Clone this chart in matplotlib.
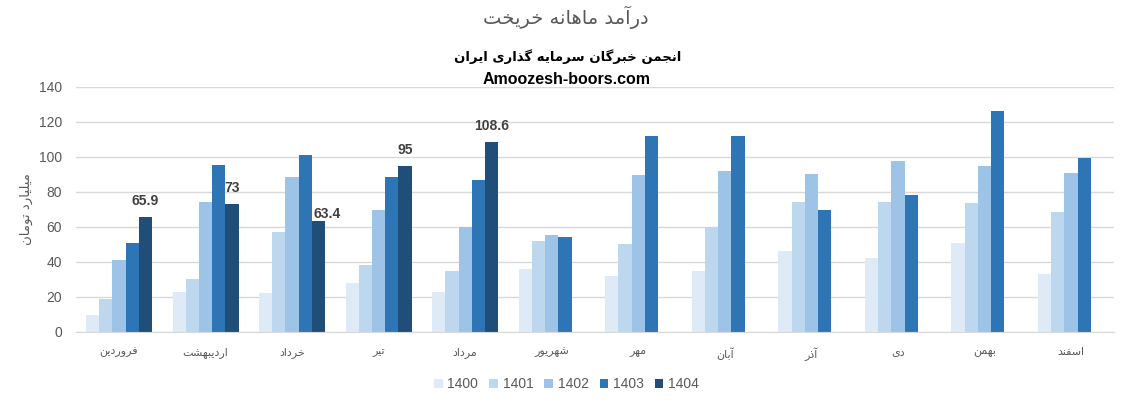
import numpy as np
import matplotlib
matplotlib.use("Agg")
import matplotlib.pyplot as plt

# data (billion toman)
months = ["فروردین", "اردیبهشت", "خرداد", "تیر", "مرداد", "شهریور",
          "مهر", "آبان", "آذر", "دی", "بهمن", "اسفند"]
years = ["1400", "1401", "1402", "1403", "1404"]
v1400 = [9.7, 22.7, 22.1, 27.8, 22.7, 35.8, 31.8, 34.7, 46.1, 42.1, 50.7, 33.0]
v1401 = [18.7, 30.1, 57.0, 38.1, 34.7, 51.8, 50.1, 60.2, 74.1, 74.1, 73.5, 68.4]
v1402 = [41.0, 74.0, 88.4, 69.5, 60.0, 55.2, 89.5, 91.8, 90.1, 97.5, 94.7, 90.7]
v1403 = [50.7, 95.2, 101.0, 88.4, 86.7, 54.1, 111.8, 111.8, 69.5, 78.1, 126.1, 99.2]
v1404 = [65.9, 73.0, 63.4, 95.0, 108.6, None, None, None, None, None, None, None]

title = "درآمد ماهانه خریخت"
subtitle = "انجمن خبرگان سرمایه گذاری ایران"
site = "Amoozesh-boors.com"
ylabel = "میلیارد تومان"

colors = ["#DEEAF6", "#BDD7EE", "#9DC3E6", "#2E75B6", "#1F4E79"]

# --- tiny Persian shaper: presentation forms (isolated, final, initial, medial) ---
FORMS = {
    "آ": ("\uFE81", "\uFE82", None, None),
    "ا": ("\uFE8D", "\uFE8E", None, None),
    "ب": ("\uFE8F", "\uFE90", "\uFE91", "\uFE92"),
    "ت": ("\uFE95", "\uFE96", "\uFE97", "\uFE98"),
    "ج": ("\uFE9D", "\uFE9E", "\uFE9F", "\uFEA0"),
    "خ": ("\uFEA5", "\uFEA6", "\uFEA7", "\uFEA8"),
    "د": ("\uFEA9", "\uFEAA", None, None),
    "ذ": ("\uFEAB", "\uFEAC", None, None),
    "ر": ("\uFEAD", "\uFEAE", None, None),
    "س": ("\uFEB1", "\uFEB2", "\uFEB3", "\uFEB4"),
    "ش": ("\uFEB5", "\uFEB6", "\uFEB7", "\uFEB8"),
    "ف": ("\uFED1", "\uFED2", "\uFED3", "\uFED4"),
    "ل": ("\uFEDD", "\uFEDE", "\uFEDF", "\uFEE0"),
    "م": ("\uFEE1", "\uFEE2", "\uFEE3", "\uFEE4"),
    "ن": ("\uFEE5", "\uFEE6", "\uFEE7", "\uFEE8"),
    "ه": ("\uFEE9", "\uFEEA", "\uFEEB", "\uFEEC"),
    "و": ("\uFEED", "\uFEEE", None, None),
    "ی": ("\uFBFC", "\uFBFD", "\uFBFE", "\uFBFF"),
    "گ": ("\uFB92", "\uFB93", "\uFB94", "\uFB95"),
}


def fa(text):
    out = []
    for i, c in enumerate(text):
        if c not in FORMS:
            out.append(c)
            continue
        prev = text[i - 1] if i > 0 else ""
        nxt = text[i + 1] if i + 1 < len(text) else ""
        j_prev = prev in FORMS and FORMS[prev][2] is not None
        j_next = FORMS[c][2] is not None and nxt in FORMS
        iso, fin, ini, med = FORMS[c]
        if j_prev and j_next:
            out.append(med)
        elif j_prev:
            out.append(fin)
        elif j_next:
            out.append(ini)
        else:
            out.append(iso)
    return "".join(out)[::-1]


FA_FONT = ["DejaVu Sans"]
GRAY = "#595959"

fig = plt.figure(figsize=(11.22, 4.08), dpi=100)
ax = fig.add_axes([0.0675, 0.1863, 0.9256, 0.6005])

series = [v1400, v1401, v1402, v1403, v1404]
x = np.arange(len(months))
w = 0.1526
for i, (yr, vals) in enumerate(zip(years, series)):
    vals = np.array([np.nan if v is None else v for v in vals], dtype=float)
    bars = ax.bar(x + (i - 2) * w, vals, width=w, color=colors[i], label=yr, zorder=2)
    if yr == "1404":
        for k, (b, v) in enumerate(zip(bars, vals)):
            if np.isnan(v):
                continue
            dx, dy = (6.3, 2.2) if k == 2 else (0, 8.6)
            ax.annotate(f"{v:g}", (b.get_x() + b.get_width() / 2, v),
                        xytext=(dx, dy), textcoords="offset points",
                        ha="center", va="baseline", fontsize=10,
                        fontweight="bold", color="#404040",
                        family="Liberation Sans")

ax.set_xlim(-0.5, len(months) - 0.5)
ax.set_ylim(0, 140)
ax.set_yticks(range(0, 141, 20))
ax.grid(axis="y", color="#D9D9D9", linewidth=1, zorder=0)
for s in ["top", "right", "left"]:
    ax.spines[s].set_visible(False)
ax.spines["bottom"].set_color("#D9D9D9")
ax.tick_params(length=0)
ax.tick_params(axis="y", pad=10, labelsize=10, labelcolor=GRAY)
ax.set_xticks(x)
ax.set_xticklabels([fa(m) for m in months], family=FA_FONT, fontsize=8, color=GRAY)
ax.tick_params(axis="x", pad=11)
for t in ax.get_yticklabels():
    t.set_family("Liberation Sans")

ax.set_ylabel(fa(ylabel), family=FA_FONT, fontsize=9.5, color=GRAY)
ax.yaxis.set_label_coords(-0.041, 0.5)

fig.text(0.504, 1 - 17 / 408, fa(title), family=FA_FONT, fontsize=14,
         color=GRAY, ha="center", va="center")
fig.text(0.506, 1 - 57 / 408, fa(subtitle), family=FA_FONT, fontsize=9.5,
         fontweight="bold", color="black", ha="center", va="center")
fig.text(0.505, 1 - 80 / 408, site, family="Liberation Sans", fontsize=11.5,
         fontweight="bold", color="black", ha="center", va="center")

leg = fig.legend(loc="center", bbox_to_anchor=(0.505, 1 - 384 / 408), ncol=5,
                 frameon=False, handlelength=0.6, handleheight=0.6,
                 handletextpad=0.35, columnspacing=0.8,
                 prop={"family": "Liberation Sans", "size": 10})
for t in leg.get_texts():
    t.set_color(GRAY)

fig.savefig("out.png", dpi=100)
